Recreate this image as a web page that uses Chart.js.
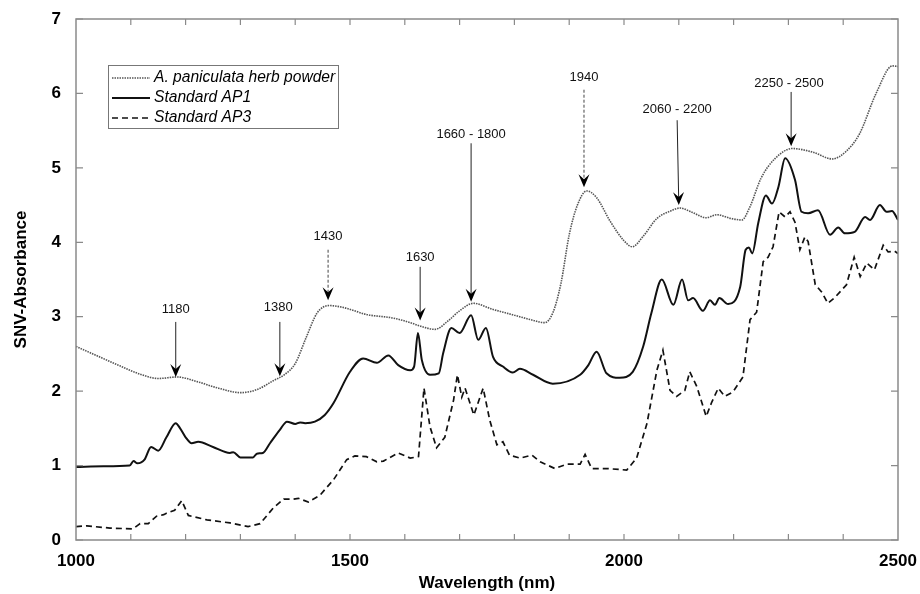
<!DOCTYPE html>
<html>
<head>
<meta charset="utf-8">
<script src="https://cdn.jsdelivr.net/npm/chart.js@4.4.0/dist/chart.umd.min.js"></script>
<style>
html,body{margin:0;padding:0;background:#fff;}
#wrap{width:920px;height:594px;position:relative;}
</style>
</head>
<body>
<div id="wrap"><canvas id="c" width="920" height="594"></canvas></div>
<script>
// ---- Data ----
const seriesLabels = ['A. paniculata herb powder', 'Standard AP1', 'Standard AP3'];

const herbNm  = [1000,1040,1080,1120,1150,1185,1220,1260,1300,1330,1360,1380,1400,1420,1440,1462,1490,1530,1580,1610,1630,1655,1680,1700,1725,1760,1800,1835,1855,1870,1885,1900,1915,1932,1950,1975,2000,2015,2035,2060,2085,2102,2125,2150,2170,2195,2215,2230,2250,2275,2307,2345,2380,2405,2430,2460,2490,2500];
const herbAbs = [2.60,2.47,2.34,2.22,2.17,2.19,2.13,2.04,1.98,2.02,2.14,2.22,2.37,2.72,3.05,3.15,3.12,3.03,2.98,2.92,2.87,2.83,2.95,3.08,3.18,3.10,3.02,2.95,2.92,3.05,3.45,4.10,4.50,4.69,4.60,4.28,4.02,3.94,4.08,4.32,4.42,4.46,4.40,4.33,4.37,4.32,4.30,4.48,4.86,5.12,5.26,5.21,5.12,5.22,5.46,6.00,6.37,6.36];

const ap1Nm  = [1000,1050,1098,1105,1112,1125,1137,1150,1165,1182,1190,1200,1211,1223,1250,1281,1287,1300,1323,1330,1341,1354,1372,1385,1400,1409,1418,1436,1454,1470,1500,1524,1549,1570,1588,1610,1617,1624,1631,1646,1662,1670,1685,1700,1721,1734,1748,1761,1779,1797,1810,1834,1870,1920,1935,1950,1968,1992,2016,2035,2050,2069,2090,2106,2117,2126,2144,2157,2166,2174,2190,2212,2222,2228,2234,2245,2259,2270,2282,2294,2312,2324,2336,2354,2376,2391,2403,2421,2440,2449,2467,2479,2489,2500];
const ap1Abs = [0.98,0.99,1.00,1.06,1.03,1.08,1.25,1.20,1.38,1.57,1.50,1.38,1.30,1.32,1.25,1.17,1.18,1.11,1.11,1.16,1.17,1.30,1.48,1.59,1.56,1.58,1.57,1.59,1.68,1.84,2.26,2.44,2.38,2.48,2.35,2.28,2.33,2.78,2.42,2.22,2.24,2.51,2.85,2.78,3.02,2.69,2.85,2.46,2.33,2.25,2.30,2.22,2.10,2.22,2.35,2.53,2.24,2.18,2.26,2.60,3.05,3.50,3.16,3.50,3.22,3.25,3.08,3.22,3.16,3.25,3.17,3.40,3.90,3.93,3.85,4.26,4.63,4.52,4.75,5.13,4.84,4.41,4.39,4.43,4.10,4.20,4.12,4.14,4.34,4.30,4.50,4.41,4.42,4.30];

const ap3Nm  = [1000,1020,1062,1104,1117,1132,1147,1160,1165,1180,1193,1205,1239,1281,1314,1336,1360,1379,1397,1406,1424,1445,1470,1494,1509,1530,1549,1561,1588,1610,1625,1635,1646,1658,1673,1689,1696,1704,1710,1726,1743,1755,1768,1779,1791,1810,1832,1847,1874,1896,1920,1929,1941,1968,2005,2023,2042,2060,2071,2084,2096,2111,2120,2133,2150,2160,2172,2184,2199,2217,2230,2242,2254,2263,2272,2283,2294,2303,2312,2321,2330,2336,2349,2361,2372,2385,2406,2420,2431,2443,2457,2473,2482,2494,2500];
const ap3Abs = [0.18,0.19,0.16,0.15,0.22,0.22,0.32,0.34,0.36,0.40,0.53,0.33,0.27,0.23,0.18,0.22,0.43,0.55,0.55,0.56,0.51,0.60,0.81,1.08,1.13,1.12,1.05,1.06,1.17,1.10,1.12,2.04,1.52,1.24,1.38,1.88,2.22,1.92,2.04,1.68,2.04,1.61,1.28,1.32,1.14,1.10,1.14,1.05,0.96,1.02,1.02,1.15,0.96,0.96,0.94,1.10,1.57,2.28,2.55,2.01,1.93,2.01,2.26,2.06,1.66,1.85,2.04,1.93,1.99,2.19,2.96,3.06,3.74,3.80,3.94,4.41,4.34,4.41,4.27,3.90,4.07,4.01,3.43,3.33,3.18,3.26,3.43,3.80,3.54,3.72,3.63,3.96,3.87,3.88,3.85];

// x tick labels and y ticks
const xTickLabels = [1000, 1500, 2000, 2500];
const xMinorTicks = [1100,1200,1300,1400,1500,1600,1700,1800,1900,2000,2100,2200,2300,2400];
const yTicks = [0,1,2,3,4,5,6,7];

// Peak annotations: label, label x (nm), label y, arrow start (nm, y), arrow tip (nm, y), dashed
const annLabels = ['1180','1380','1430','1630','1660 - 1800','1940','2060 - 2200','2250 - 2500'];
const annTextX  = [1182,1369,1460,1628,1721,1927,2097,2301];
const annTextY  = [3.10,3.12,4.08,3.80,5.45,6.22,5.79,6.14];
const annFromX  = [1182,1372,1460,1628,1721,1927,2097,2305];
const annFromY  = [2.93,2.93,3.90,3.67,5.33,6.05,5.64,6.02];
const annTipX   = [1182,1372,1460,1628,1721,1927,2100,2305];
const annTipY   = [2.19,2.20,3.22,2.95,3.20,4.74,4.50,5.29];
const annDashed = [false,false,true,false,false,true,false,false];

const FONT = "Arial, 'Liberation Sans', Helvetica, sans-serif";
const toPts = (xs, ys) => xs.map((x, i) => ({x: x, y: ys[i]}));

const whiteBg = {
  id: 'whiteBg',
  beforeDraw(chart) {
    const ctx = chart.ctx;
    ctx.save(); ctx.fillStyle = '#fff'; ctx.fillRect(0, 0, chart.width, chart.height); ctx.restore();
  }
};

const frameTicks = {
  id: 'frameTicks',
  afterDraw(chart) {
    const {ctx, chartArea: a, scales: {x, y}} = chart;
    ctx.save();
    ctx.strokeStyle = '#8a8a8a';
    ctx.lineWidth = 1.5;
    ctx.strokeRect(a.left, a.top, a.right - a.left, a.bottom - a.top);
    ctx.lineWidth = 1.2;
    ctx.beginPath();
    xMinorTicks.forEach(v => {
      const px = x.getPixelForValue(v);
      ctx.moveTo(px, a.bottom); ctx.lineTo(px, a.bottom - 6);
      ctx.moveTo(px, a.top); ctx.lineTo(px, a.top + 6);
    });
    yTicks.forEach(v => {
      const py = y.getPixelForValue(v);
      ctx.moveTo(a.left, py); ctx.lineTo(a.left + 7, py);
      ctx.moveTo(a.right, py); ctx.lineTo(a.right - 7, py);
    });
    ctx.stroke();
    ctx.restore();
  }
};

const annotations = {
  id: 'annotations',
  afterDatasetsDraw(chart) {
    const {ctx, scales: {x, y}} = chart;
    ctx.save();
    ctx.font = '13px ' + FONT;
    ctx.fillStyle = '#111';
    ctx.textAlign = 'center';
    ctx.textBaseline = 'middle';
    annLabels.forEach((lab, i) => {
      const tx = x.getPixelForValue(annTextX[i]);
      const ty = y.getPixelForValue(annTextY[i]);
      ctx.fillText(lab, tx, ty);
      const fx = x.getPixelForValue(annFromX[i]);
      const fy = y.getPixelForValue(annFromY[i]);
      const px = x.getPixelForValue(annTipX[i]);
      const py = y.getPixelForValue(annTipY[i]);
      const ang = Math.atan2(py - fy, px - fx);
      const hl = 13, hw = 5.5, notch = 8;
      ctx.beginPath();
      ctx.strokeStyle = annDashed[i] ? '#444' : '#222';
      ctx.lineWidth = 1;
      ctx.setLineDash(annDashed[i] ? [3, 2] : []);
      ctx.moveTo(fx, fy);
      ctx.lineTo(px - Math.cos(ang) * notch, py - Math.sin(ang) * notch);
      ctx.stroke();
      ctx.setLineDash([]);
      const cx = Math.cos(ang), sx = Math.sin(ang);
      const bx = px - cx * hl, by = py - sx * hl;
      ctx.beginPath();
      ctx.moveTo(px, py);
      ctx.lineTo(bx - sx * hw, by + cx * hw);
      ctx.lineTo(px - cx * notch, py - sx * notch);
      ctx.lineTo(bx + sx * hw, by - cx * hw);
      ctx.closePath();
      ctx.fillStyle = '#000';
      ctx.fill();
      ctx.fillStyle = '#111';
    });
    ctx.restore();
  }
};

const insideLegend = {
  id: 'insideLegend',
  afterDraw(chart) {
    const ctx = chart.ctx;
    const box = {x: 108, y: 65, w: 230, h: 63};
    ctx.save();
    ctx.fillStyle = '#fff';
    ctx.fillRect(box.x, box.y, box.w, box.h);
    ctx.strokeStyle = '#777';
    ctx.lineWidth = 1;
    ctx.strokeRect(box.x + 0.5, box.y + 0.5, box.w, box.h);
    ctx.font = 'italic 15.6px ' + FONT;
    ctx.textBaseline = 'middle';
    ctx.textAlign = 'left';
    chart.data.datasets.forEach((ds, i) => {
      const yy = box.y + 13 + i * 20;
      ctx.beginPath();
      ctx.strokeStyle = ds.borderColor;
      ctx.lineWidth = ds.borderWidth;
      ctx.setLineDash(ds.borderDash || []);
      ctx.moveTo(112, yy); ctx.lineTo(150, yy);
      ctx.stroke();
      ctx.setLineDash([]);
      ctx.fillStyle = '#000';
      ctx.fillText(ds.label, 154, yy);
    });
    ctx.restore();
  }
};

new Chart(document.getElementById('c'), {
  type: 'line',
  data: {
    datasets: [
      {label: seriesLabels[0], data: toPts(herbNm, herbAbs), borderColor: '#555', borderWidth: 1.6, borderDash: [1.5, 1], pointRadius: 0, cubicInterpolationMode: 'monotone', fill: false},
      {label: seriesLabels[1], data: toPts(ap1Nm, ap1Abs), borderColor: '#111', borderWidth: 2, pointRadius: 0, cubicInterpolationMode: 'monotone', fill: false},
      {label: seriesLabels[2], data: toPts(ap3Nm, ap3Abs), borderColor: '#111', borderWidth: 1.7, borderDash: [6, 4], pointRadius: 0, tension: 0, fill: false}
    ]
  },
  options: {
    responsive: false,
    animation: false,
    devicePixelRatio: 1,
    layout: {padding: {left: 0, right: 22, top: 19, bottom: 0}},
    plugins: {legend: {display: false}, tooltip: {enabled: false}},
    scales: {
      x: {
        type: 'linear', min: 1000, max: 2500,
        afterFit: s => { s.height = 54; },
        afterBuildTicks: s => { s.ticks = xTickLabels.map(v => ({value: v})); },
        grid: {display: false}, border: {display: false},
        ticks: {autoSkip: false, maxRotation: 0, padding: 3, color: '#000', callback: v => String(v), font: {family: FONT, size: 17, weight: 'bold'}},
        title: {display: true, text: 'Wavelength (nm)', color: '#000', padding: {top: 0, bottom: 0}, font: {family: FONT, size: 17, weight: 'bold'}}
      },
      y: {
        min: 0, max: 7,
        afterFit: s => { s.width = 76; },
        afterBuildTicks: s => { s.ticks = yTicks.map(v => ({value: v})); },
        grid: {display: false}, border: {display: false},
        ticks: {padding: 7, color: '#000', callback: v => String(v), font: {family: FONT, size: 17, weight: 'bold'}},
        title: {display: true, text: 'SNV-Absorbance', color: '#000', padding: {top: 11, bottom: 0}, font: {family: FONT, size: 17, weight: 'bold'}}
      }
    }
  },
  plugins: [whiteBg, frameTicks, annotations, insideLegend]
});
</script>
</body>
</html>
